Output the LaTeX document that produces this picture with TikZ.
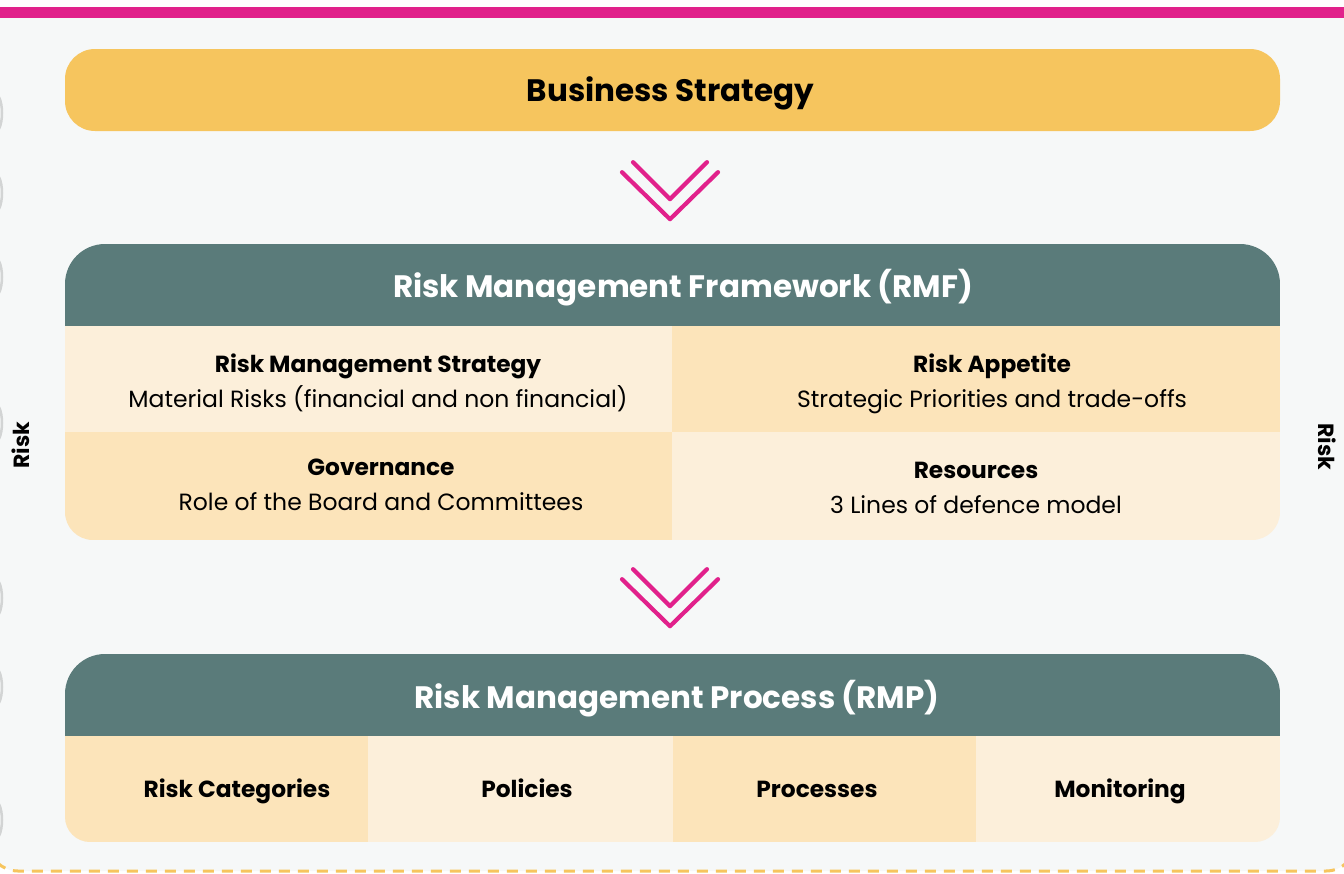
\documentclass[tikz,border=0pt]{standalone}
\usepackage{fontspec}
\setmainfont{Poppins}
\usetikzlibrary{calc}

\definecolor{magentabar}{HTML}{E1218B}
\definecolor{panelbg}{HTML}{F6F8F8}
\definecolor{strategy}{HTML}{F6C55E}
\definecolor{teal}{HTML}{5A7B7A}
\definecolor{celllight}{HTML}{FCEFDA}
\definecolor{celldark}{HTML}{FCE4BA}
\definecolor{bumpgray}{HTML}{C9CBCB}

\tikzset{
  headtext/.style={text=white, anchor=base, inner sep=0pt, font=\bfseries\fontsize{31}{36}\selectfont},
  celltitle/.style={anchor=base, inner sep=0pt, font=\bfseries\fontsize{23.3}{27}\selectfont},
  cellbody/.style={anchor=base, inner sep=0pt, font=\fontsize{23.5}{27}\selectfont},
  chevron/.style={draw=magentabar, line width=4.2pt, line cap=round, line join=round},
  sidelabel/.style={font=\bfseries\fontsize{22}{26}\selectfont},
}

\begin{document}
\begin{tikzpicture}[x=1pt,y=-1pt]
  \useasboundingbox (0,0) rectangle (1344,873);
  \fill[white] (0,0) rectangle (1344,873);

  % light panel with dashed yellow rim
  \draw[fill=panelbg, draw=strategy, line width=3pt, dash pattern=on 11pt off 8pt,
        rounded corners=30pt] (-12,-40) rectangle (1356,871);

  % faint edges of the neighbouring ring, cut by the page edge
  \foreach \yy in {113,193,277,423,598,687,820}
    \draw[bumpgray, line width=2.5pt, opacity=0.8] (-1,\yy-16) .. controls (3,\yy-8) and (3,\yy+8) .. (-1,\yy+16);

  % top band
  \fill[white] (0,0) rectangle (1344,7);
  \fill[magentabar] (0,7) rectangle (1344,18);

  % side labels
  \node[sidelabel, rotate=90] (riskL) at (21,445) {Risk};
  \node[sidelabel, rotate=-90] (riskR) at (1327,447) {Risk};

  % business strategy
  \node[fill=strategy, rounded corners=30pt, minimum width=1215pt, minimum height=82pt,
        inner sep=0pt] (bs) at (672.5,90) {};
  \node[headtext, text=black] (bsT) at (670.5,101.7) {Business Strategy};

  % ---------------- risk management framework ----------------
  \begin{scope}
    \clip[rounded corners=40pt] (65,244) rectangle (1280,700);
    \clip[rounded corners=28pt] (65,100) rectangle (1280,540);
    \fill[teal] (65,244) rectangle (1280,326);
    \fill[celllight] (65,326) rectangle (672,432);
    \fill[celldark] (672,326) rectangle (1280,432);
    \fill[celldark] (65,432) rectangle (672,540);
    \fill[celllight] (672,432) rectangle (1280,540);
  \end{scope}
  \node[headtext] (rmf) at (683,297) {Risk Management Framework (RMF)};

  \node[celltitle] (rmsT) at (378,372) {Risk Management Strategy};
  \node[cellbody] (rmsB) at (378,407) {Material Risks (financial and non financial)};
  \node[celltitle] (raT) at (992,372) {Risk Appetite};
  \node[cellbody] (raB) at (992,407) {Strategic Priorities and trade-offs};
  \node[celltitle] (govT) at (381,475.5) {Governance};
  \node[cellbody] (govB) at (381,510.5) {Role of the Board and Committees};
  \node[celltitle] (resT) at (976,478.5) {Resources};
  \node[cellbody] (resB) at (976,513.5) {3 Lines of defence model};

  % ---------------- risk management process ----------------
  \begin{scope}
    \clip[rounded corners=40pt] (65,654) rectangle (1280,900);
    \clip[rounded corners=25pt] (65,500) rectangle (1280,842);
    \fill[celldark] (65,735) rectangle (368,842);
    \fill[celllight] (368,735) rectangle (673,842);
    \fill[celldark] (673,735) rectangle (976,842);
    \fill[celllight] (976,735) rectangle (1280,842);
    \fill[teal] (65,654) rectangle (1280,735.5);
  \end{scope}
  \node[headtext] (rmp) at (677,708) {Risk Management Process (RMP)};

  \node[celltitle] (cat) at (237,797) {Risk Categories};
  \node[celltitle] (pol) at (527,797) {Policies};
  \node[celltitle] (proc) at (817,797) {Processes};
  \node[celltitle] (mon) at (1120,797) {Monitoring};

  % chevrons between the stages
  \coordinate (c1) at ($(bs.south)+(-2.5,59)$);
  \coordinate (c2) at ($(c1)+(0,407)$);
  \foreach \c in {c1,c2} {
    \draw[chevron] ($(\c)+(-37,-28)$) -- ($(\c)+(0,9)$) -- ($(\c)+(37,-28)$);
    \draw[chevron] ($(\c)+(-48,-18)$) -- ($(\c)+(0,29)$) -- ($(\c)+(48,-18)$);
  }
\end{tikzpicture}
\end{document}
